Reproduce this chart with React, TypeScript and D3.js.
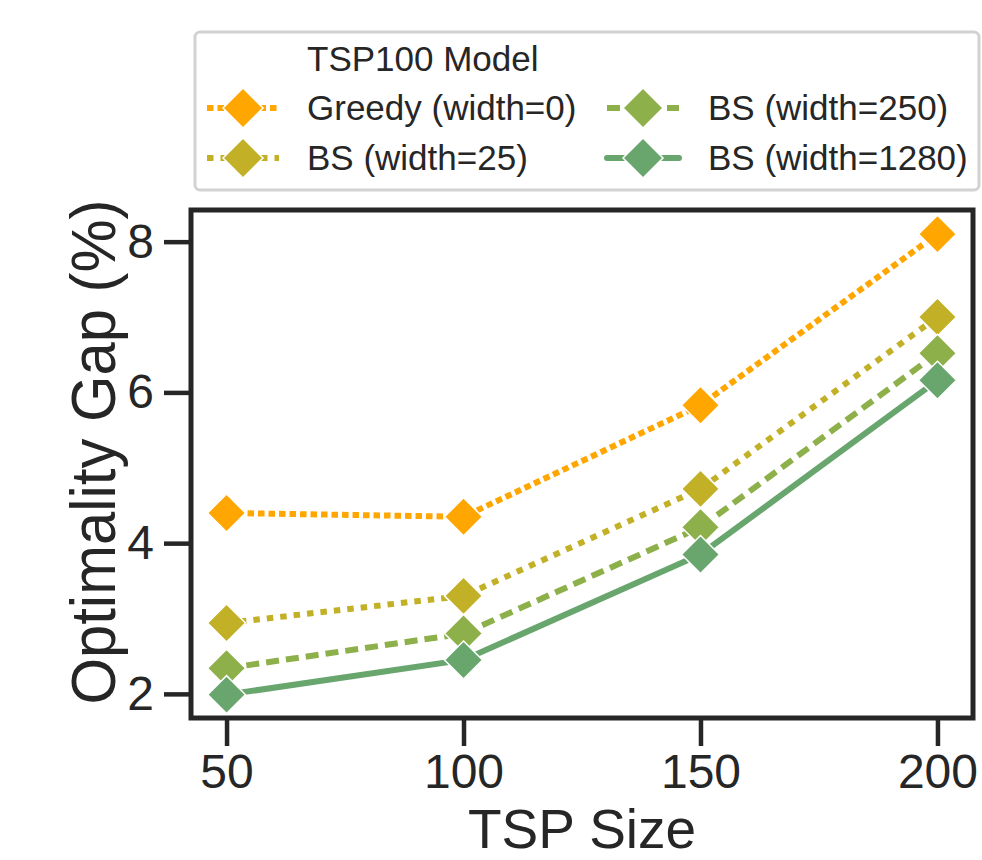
import React, { useEffect, useRef } from 'react';
import * as d3 from 'd3';

const sizes = [50, 100, 150, 200];
const greedy = [4.4, 4.35, 5.83, 8.1];
const bs25 = [2.94, 3.3, 4.72, 7.0];
const bs250 = [2.34, 2.8, 4.21, 6.52];
const bs1280 = [1.99, 2.45, 3.85, 6.16];
const yTicks = [2, 4, 6, 8];

const series = [
  { name: 'Greedy (width=0)', values: greedy, color: '#ffa600', dash: '6.5,4' },
  { name: 'BS (width=25)', values: bs25, color: '#c2b026', dash: '6.5,7' },
  { name: 'BS (width=250)', values: bs250, color: '#8db04b', dash: '13,7' },
  { name: 'BS (width=1280)', values: bs1280, color: '#68a66e', dash: null },
];

const App = () => {
  const svgRef = useRef<SVGSVGElement>(null);

  useEffect(() => {
    const svg = d3.select(svgRef.current);
    svg.selectAll('*').remove();

    const width = 982;
    const height = 860;
    const font = 'Liberation Sans, Arial, sans-serif';
    const ink = '#262626';
    const left = 191, right = 973, top = 210, bottom = 718;

    svg.attr('width', width).attr('height', height);

    const x = d3.scaleLinear().domain([42.5, 207.5]).range([left, right]);
    const y = d3.scaleLinear().domain([1.68, 8.42]).range([bottom, top]);

    const diamond = (cx: number, cy: number, r: number) =>
      `M${cx},${cy - r}L${cx + r},${cy}L${cx},${cy + r}L${cx - r},${cy}Z`;

    // lines + markers
    const line = d3.line<number>()
      .x((_, i) => x(sizes[i]))
      .y(d => y(d));

    series.forEach(s => {
      svg.append('path')
        .attr('d', line(s.values))
        .attr('fill', 'none')
        .attr('stroke', s.color)
        .attr('stroke-width', 6)
        .attr('stroke-dasharray', s.dash || null);
    });
    series.forEach(s => {
      s.values.forEach((v, i) => {
        svg.append('path')
          .attr('d', diamond(x(sizes[i]), y(v), 19))
          .attr('fill', s.color)
          .attr('stroke', '#fff')
          .attr('stroke-width', 1.5);
      });
    });

    // frame
    svg.append('rect')
      .attr('x', left).attr('y', top)
      .attr('width', right - left).attr('height', bottom - top)
      .attr('fill', 'none').attr('stroke', ink).attr('stroke-width', 5);

    // x axis
    const xa = svg.append('g')
      .attr('transform', `translate(0,${bottom})`)
      .call(d3.axisBottom(x).tickValues(sizes).tickSize(28).tickPadding(8).tickFormat(d3.format('d')));
    xa.select('.domain').remove();
    xa.selectAll('line').attr('stroke', ink).attr('stroke-width', 4.5);
    xa.selectAll('text').attr('fill', ink).style('font-family', font).style('font-size', '48px');

    // y axis
    const ya = svg.append('g')
      .attr('transform', `translate(${left},0)`)
      .call(d3.axisLeft(y).tickValues(yTicks).tickSize(27).tickPadding(10).tickFormat(d3.format('d')));
    ya.select('.domain').remove();
    ya.selectAll('line').attr('stroke', ink).attr('stroke-width', 4.5);
    ya.selectAll('text').attr('fill', ink).style('font-family', font).style('font-size', '48px');

    // axis labels
    svg.append('text')
      .attr('x', (left + right) / 2).attr('y', 848)
      .attr('text-anchor', 'middle')
      .attr('fill', ink)
      .style('font-family', font).style('font-size', '55px')
      .text('TSP Size');

    svg.append('text')
      .attr('transform', `translate(115,452) rotate(-90)`)
      .attr('text-anchor', 'middle')
      .attr('fill', ink)
      .attr('textLength', 505)
      .attr('lengthAdjust', 'spacingAndGlyphs')
      .style('font-family', font).style('font-size', '63px')
      .text('Optimality Gap (%)');

    // legend
    const lg = svg.append('g');
    lg.append('rect')
      .attr('x', 195).attr('y', 32).attr('width', 784).attr('height', 158)
      .attr('rx', 5)
      .attr('fill', '#fff').attr('stroke', '#d2d2d2').attr('stroke-width', 3);
    lg.append('text')
      .attr('x', 307).attr('y', 71)
      .attr('fill', ink)
      .style('font-family', font).style('font-size', '35px')
      .text('TSP100 Model');

    series.forEach((s, k) => {
      const col = k < 2 ? 0 : 1;
      const row = k % 2;
      const hx = col === 0 ? 207 : 607;
      const tx = col === 0 ? 307 : 708;
      const cy = row === 0 ? 108 : 158;
      lg.append('line')
        .attr('x1', hx).attr('x2', hx + 72)
        .attr('y1', cy).attr('y2', cy)
        .attr('stroke', s.color).attr('stroke-width', 6)
        .attr('stroke-linecap', s.dash ? 'butt' : 'round')
        .attr('stroke-dasharray', s.dash || null);
      lg.append('path')
        .attr('d', diamond(hx + 36, cy, 20))
        .attr('fill', s.color)
        .attr('stroke', '#fff').attr('stroke-width', 1.5);
      lg.append('text')
        .attr('x', tx).attr('y', cy + 12)
        .attr('fill', ink)
        .style('font-family', font).style('font-size', '35px')
        .text(s.name);
    });
  }, []);

  return <svg ref={svgRef} style={{ position: 'absolute', left: 0, top: 0, background: '#fff' }} />;
};

export default App;
